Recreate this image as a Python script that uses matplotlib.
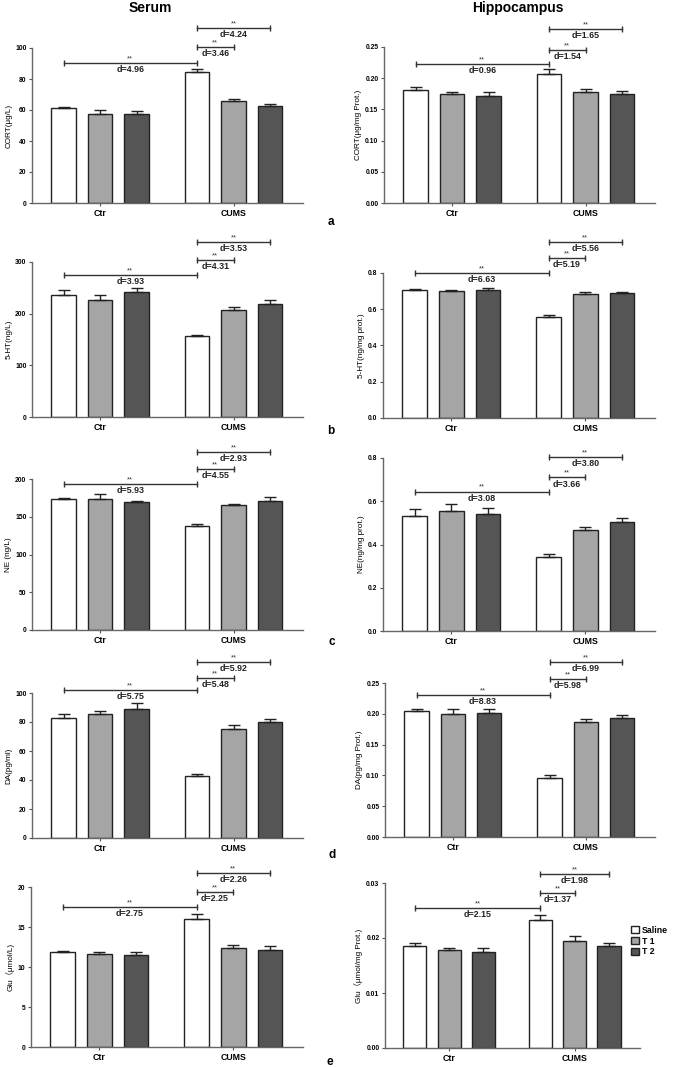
import matplotlib
matplotlib.use("Agg")
import matplotlib.pyplot as plt
import numpy as np

plt.rcParams['font.family'] = ['Liberation Sans', 'Noto Sans CJK SC', 'DejaVu Sans']

groups = ['Ctr', 'CUMS']
series = ['Saline', 'T 1', 'T 2']

# ---- data: means [Ctr, CUMS] x [Saline, T1, T2], upper error, bracket heights, d values
cort_serum_mean = [[61.3, 57.4, 57.6], [84.5, 66.0, 62.4]]
cort_serum_err = [[0.9, 2.8, 2.0], [2.2, 1.3, 1.5]]
cort_serum_sig = [90.3, 100.6, 112.9]
cort_serum_d = ['d=4.96', 'd=3.46', 'd=4.24']

cort_hip_mean = [[0.181, 0.174, 0.172], [0.206, 0.178, 0.174]]
cort_hip_err = [[0.0054, 0.0038, 0.0054], [0.009, 0.0043, 0.0048]]
cort_hip_sig = [0.223, 0.2457, 0.279]
cort_hip_d = ['d=0.96', 'd=1.54', 'd=1.65']

ht_serum_mean = [[237, 227, 242], [157, 207, 219]]
ht_serum_err = [[9, 10, 8], [2, 5, 8]]
ht_serum_sig = [275, 304.6, 339]
ht_serum_d = ['d=3.93', 'd=4.31', 'd=3.53']

ht_hip_mean = [[0.704, 0.701, 0.706], [0.559, 0.684, 0.688]]
ht_hip_err = [[0.006, 0.007, 0.009], [0.007, 0.009, 0.009]]
ht_hip_sig = [0.80, 0.881, 0.973]
ht_hip_d = ['d=6.63', 'd=5.19', 'd=5.56']

ne_serum_mean = [[173.5, 173.5, 169.5], [138.0, 165.5, 171.2]]
ne_serum_err = [[1.3, 7.0, 0.9], [2.0, 1.3, 4.5]]
ne_serum_sig = [193.4, 213.0, 235.8]
ne_serum_d = ['d=5.93', 'd=4.55', 'd=2.93']

ne_hip_mean = [[0.534, 0.554, 0.540], [0.343, 0.468, 0.503]]
ne_hip_err = [[0.029, 0.031, 0.029], [0.011, 0.012, 0.020]]
ne_hip_sig = [0.645, 0.71, 0.803]
ne_hip_d = ['d=3.08', 'd=3.66', 'd=3.80']

da_serum_mean = [[82.6, 85.8, 89.2], [43.0, 75.4, 79.8]]
da_serum_err = [[2.9, 2.1, 3.7], [1.0, 2.7, 2.5]]
da_serum_sig = [102.3, 110.6, 121.4]
da_serum_d = ['d=5.75', 'd=5.48', 'd=5.92']

da_hip_mean = [[0.204, 0.200, 0.202], [0.0957, 0.186, 0.1935]]
da_hip_err = [[0.003, 0.007, 0.0055], [0.0053, 0.005, 0.0045]]
da_hip_sig = [0.231, 0.2565, 0.284]
da_hip_d = ['d=8.83', 'd=5.98', 'd=6.99']

glu_serum_mean = [[11.92, 11.67, 11.50], [15.96, 12.375, 12.17]]
glu_serum_err = [[0.12, 0.16, 0.33], [0.62, 0.33, 0.41]]
glu_serum_sig = [17.5, 19.4, 21.8]
glu_serum_d = ['d=2.75', 'd=2.25', 'd=2.26']

glu_hip_mean = [[0.01848, 0.01776, 0.01752], [0.02327, 0.01952, 0.01855]]
glu_hip_err = [[0.00055, 0.00042, 0.0006], [0.00085, 0.00084, 0.0006]]
glu_hip_sig = [0.0254, 0.0282, 0.0316]
glu_hip_d = ['d=2.15', 'd=1.37', 'd=1.98']

ylabels = ['CORT(μg/L)', 'CORT(μg/mg Prot.)', '5-HT(ng/L)', '5-HT(ng/mg prot.)',
           'NE (ng/L)', 'NE(ng/mg prot.)', 'DA(pg/ml)', 'DA(pg/mg Prot.)',
           'Glu（μmol/L)', 'Glu（μmol/mg Prot.)']
yticks_list = [
    [0, 20, 40, 60, 80, 100], [0.00, 0.05, 0.10, 0.15, 0.20, 0.25],
    [0, 100, 200, 300], [0.0, 0.2, 0.4, 0.6, 0.8],
    [0, 50, 100, 150, 200], [0.0, 0.2, 0.4, 0.6, 0.8],
    [0, 20, 40, 60, 80, 100], [0.00, 0.05, 0.10, 0.15, 0.20, 0.25],
    [0, 5, 10, 15, 20], [0.00, 0.01, 0.02, 0.03],
]
ytick_fmt = ['%d', '%.2f', '%d', '%.1f', '%d', '%.1f', '%d', '%.2f', '%d', '%.2f']
panel_letters = ['a', 'b', 'c', 'd', 'e']

panels = [
    (cort_serum_mean, cort_serum_err, cort_serum_sig, cort_serum_d),
    (cort_hip_mean, cort_hip_err, cort_hip_sig, cort_hip_d),
    (ht_serum_mean, ht_serum_err, ht_serum_sig, ht_serum_d),
    (ht_hip_mean, ht_hip_err, ht_hip_sig, ht_hip_d),
    (ne_serum_mean, ne_serum_err, ne_serum_sig, ne_serum_d),
    (ne_hip_mean, ne_hip_err, ne_hip_sig, ne_hip_d),
    (da_serum_mean, da_serum_err, da_serum_sig, da_serum_d),
    (da_hip_mean, da_hip_err, da_hip_sig, da_hip_d),
    (glu_serum_mean, glu_serum_err, glu_serum_sig, glu_serum_d),
    (glu_hip_mean, glu_hip_err, glu_hip_sig, glu_hip_d),
]

W, H = 675, 1068
fig = plt.figure(figsize=(W / 100, H / 100), dpi=100)

# axes boxes in pixels: (left, top, right, bottom)
boxes = [
    (32, 48, 303, 203), (384, 47, 655, 203),
    (32, 262, 303, 417), (383, 273, 655, 418),
    (32, 479, 303, 630), (383, 458, 655, 631),
    (32, 693, 303, 838), (385, 683, 655, 837),
    (31, 887, 303, 1047), (385, 883, 640, 1048),
]

colors = ['white', '#a5a5a5', '#555555']
edge = '#222222'
offsets = [-0.273, 0.0, 0.273]
bw = 0.184
gx = np.arange(len(groups))

for i, (box, (mean, err, sig, dtxt)) in enumerate(zip(boxes, panels)):
    l, t, r, b = box
    ax = fig.add_axes([l / W, 1 - b / H, (r - l) / W, (b - t) / H])
    mean = np.array(mean, dtype=float)
    err = np.array(err, dtype=float)
    for s in range(3):
        xs = gx + offsets[s]
        ax.bar(xs, mean[:, s], width=bw, color=colors[s], edgecolor=edge,
               linewidth=1.0, zorder=2, label=series[s])
        ax.errorbar(xs, mean[:, s], yerr=[np.zeros(2), err[:, s]], fmt='none',
                    ecolor=edge, elinewidth=1.0, capsize=4.5, capthick=1.0, zorder=3)
    yt = yticks_list[i]
    ax.set_ylim(0, yt[-1])
    ax.set_xlim(-0.51, 1.52)
    ax.set_yticks(yt)
    ax.set_yticklabels([ytick_fmt[i] % v for v in yt], fontsize=4.9, fontweight='bold')
    ax.set_xticks(gx)
    ax.set_xticklabels(groups, fontsize=6.3, fontweight='bold')
    ax.tick_params(axis='both', length=2.5, width=0.8, color='#555555', pad=1.5)
    ax.tick_params(axis='x', pad=2)
    for sp in ['top', 'right']:
        ax.spines[sp].set_visible(False)
    for sp in ['left', 'bottom']:
        ax.spines[sp].set_color('#666666')
        ax.spines[sp].set_linewidth(1.0)
    ax.set_ylabel(ylabels[i], fontsize=5.9, labelpad=2)

    # significance brackets
    pairs = [(gx[0] + offsets[0], gx[1] + offsets[0]),
             (gx[1] + offsets[0], gx[1] + offsets[1]),
             (gx[1] + offsets[0], gx[1] + offsets[2])]
    for (x1, x2), yb, dt in zip(pairs, sig, dtxt):
        ax.plot([x1, x2], [yb, yb], color='#333333', lw=1.0, clip_on=False, zorder=4)
        ax.plot([x1, x2], [yb, yb], linestyle='none', marker='|', markersize=4.5,
                mew=1.0, color='#333333', clip_on=False, zorder=4)
        xm = (x1 + x2) / 2
        ax.annotate('**', xy=(xm, yb), xytext=(0, 0.5), textcoords='offset points',
                    ha='center', va='bottom', fontsize=5.5, annotation_clip=False,
                    color='#333333')
        ax.annotate(dt, xy=(xm, yb), xytext=(0, -1.5), textcoords='offset points',
                    ha='center', va='top', fontsize=6.4, fontweight='bold',
                    annotation_clip=False, color='#222222')

    if i == 9:
        ax.legend(loc='upper left', bbox_to_anchor=(0.965, 0.74), frameon=False,
                  prop={'size': 6.3, 'weight': 'bold'}, handlelength=0.85,
                  handleheight=0.85, handletextpad=0.35, labelspacing=0.2,
                  borderaxespad=0.0, borderpad=0.0)

letter_pos = [(331, 222), (331, 431), (332, 642), (332, 855), (330, 1062)]
for let, (x, y) in zip(panel_letters, letter_pos):
    fig.text(x / W, 1 - y / H, let, fontsize=8.5, fontweight='bold', ha='center', va='center')

fig.text(150 / W, 1 - 8 / H, 'Serum', fontsize=10, fontweight='bold', ha='center', va='center')
fig.text(518 / W, 1 - 8 / H, 'Hippocampus', fontsize=10, fontweight='bold', ha='center', va='center')

fig.savefig('out.png', dpi=100)
